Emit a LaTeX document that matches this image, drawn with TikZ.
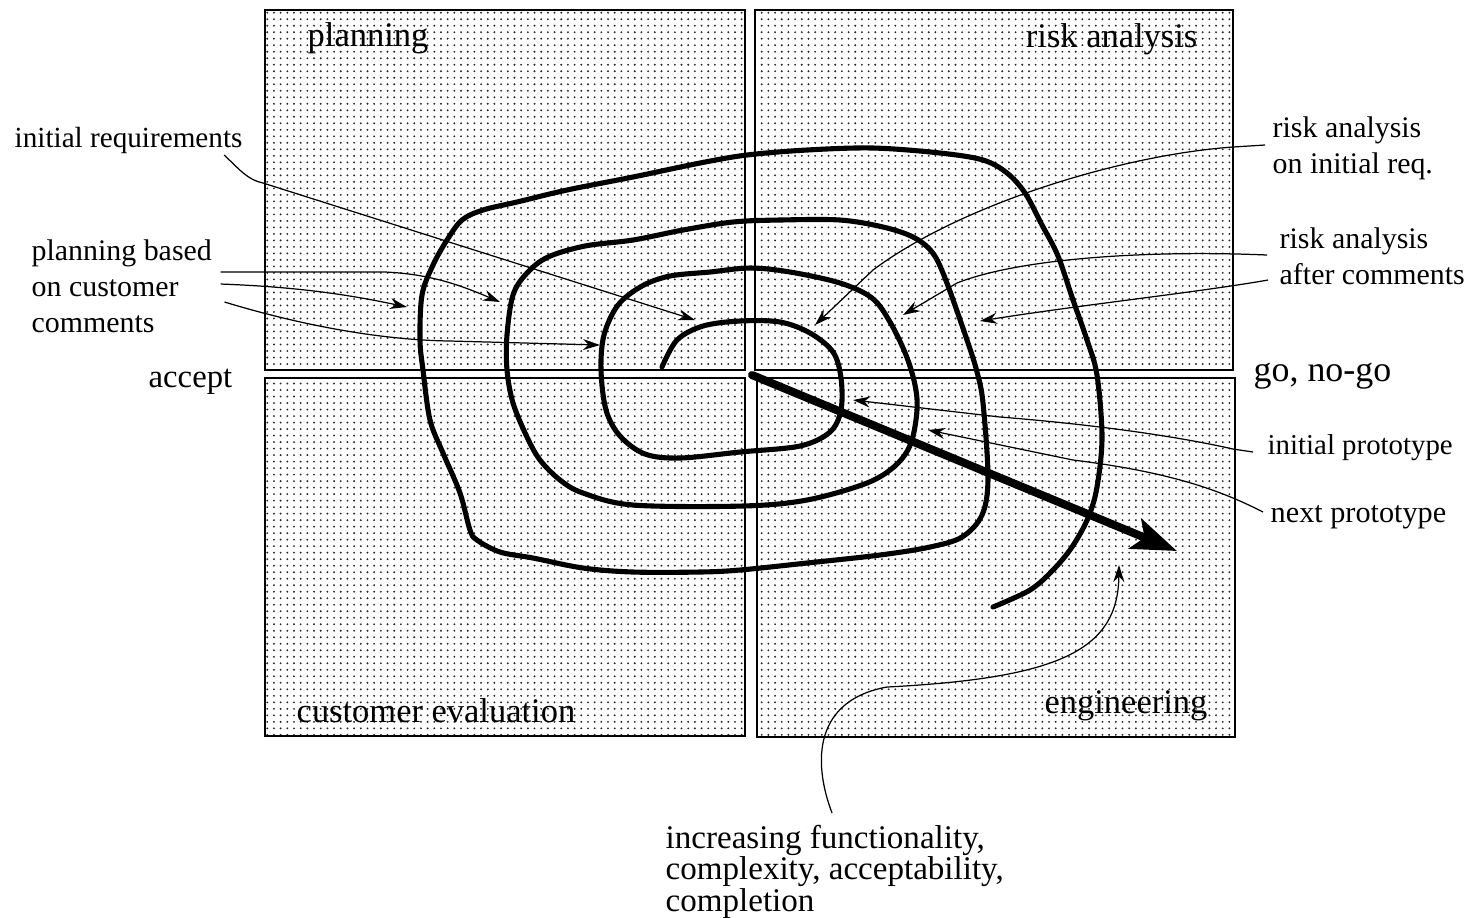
\documentclass[tikz,border=0pt]{standalone}
\usepackage{fontspec}
\setmainfont{Liberation Serif}
\usetikzlibrary{arrows.meta,positioning,patterns}
\pgfdeclarepatternformonly{finedots}{\pgfqpoint{-0.4pt}{-0.4pt}}{\pgfqpoint{0.4pt}{0.4pt}}{\pgfqpoint{1.9pt}{1.85pt}}{%
  \pgfpathcircle{\pgfpointorigin}{0.3pt}\pgfusepath{fill}}
\tikzset{
  quad/.style={draw, line width=0.55pt, pattern=finedots, pattern color=black!85},
  coil/.style={line width=1.45pt, line cap=round, line join=round},
  conn/.style={-{Stealth[length=1.7mm,width=1.1mm]}, line width=0.35pt},
  bigarrow/.style={-{Stealth[length=4.5mm,width=3.2mm,inset=1mm]}, line width=2.3pt, line cap=round},
  lbl/.style={inner sep=0pt, align=left, font=\fontsize{8.5}{10.2}\selectfont},
  ttl/.style={inner sep=0pt, font=\fontsize{9.8}{11}\selectfont},
}

\begin{document}
\begin{tikzpicture}[x=0.01cm, y=-0.01cm]
  \useasboundingbox (0,0) rectangle (1479,917);
  \draw[quad] (265,10) rectangle (745,370);
  \draw[quad] (755,10) rectangle (1233,370);
  \draw[quad] (265,378) rectangle (745,736);
  \draw[quad] (757,378) rectangle (1235,737);

  \node[ttl, anchor=west] (plan) at (307,38) {planning};
  \node[ttl, anchor=east] (risk) at (1198,39) {risk analysis};
  \node[ttl, anchor=west] (ceval) at (296,711) {customer evaluation};
  \node[ttl, anchor=east] (eng) at (1208,706) {engineering};

  \node[lbl, anchor=west, font=\fontsize{8.3}{10}\selectfont] (ireq) at (14,140) {initial requirements};
  \node[lbl, anchor=west] (pbc) at (31,286) {planning based\\on customer\\comments};
  \node[ttl, anchor=west, font=\fontsize{9.3}{11}\selectfont] (acc) at (148,382) {accept};
  \node[lbl, anchor=west] (rinit) at (1272,148) {risk analysis\\on initial req.};
  \node[lbl, anchor=west] (rcom) at (1279,256) {risk analysis\\after comments};
  \node[ttl, anchor=west, font=\fontsize{10.2}{11}\selectfont] (gng) at (1253,376) {go, no-go};
  \node[lbl, anchor=west, font=\fontsize{8.2}{10}\selectfont] (iproto) at (1267,448) {initial prototype};
  \node[lbl, anchor=west, font=\fontsize{8.6}{10}\selectfont] (nproto) at (1270,517) {next prototype};
  \node[lbl, anchor=north west, font=\fontsize{9.4}{9}\selectfont] (incr) at (665,824)
    {increasing functionality,\\complexity, acceptability,\\completion};

  \draw[coil] plot[smooth, tension=0.55] coordinates {
    (662,367) (677,340) (703,326) (740,321) (780,322) (810,333) (833,352) (841,378)
    (841,410) (830,432) (800,446) (740,452) (680,458) (645,454) (620,436) (606,410)
    (601,370) (604,335) (618,305) (642,286) (670,276) (710,272) (750,268) (790,272)
    (840,283) (872,298) (890,322) (906,355) (915,385) (917,410) (911,443) (896,465)
    (867,483) (807,500) (743,506) (633,505) (583,493) (560,480) (540,460) (527,437)
    (513,403) (507,370) (507,335) (513,295) (527,273) (548,257) (585,246) (633,240)
    (683,230) (733,222) (780,220) (840,220) (883,227) (913,237) (932,252) (945,278)
    (967,340) (977,372) (983,403) (988,478) (982,515) (962,537) (930,547) (880,555)
    (807,563) (740,570) (700,572) (633,572) (583,568) (533,558) (500,552) (477,540)
    (470,530) (460,493) (443,453) (430,420) (423,370) (420,340) (422,295) (433,265)
    (447,240) (462,220) (483,210) (517,202) (567,190) (633,177) (700,163) (747,155)
    (807,150) (873,148) (940,153) (983,160) (1007,173) (1025,193) (1042,225) (1058,256)
    (1073,300) (1087,340) (1097,375) (1102,437) (1097,487) (1088,518) (1072,547)
    (1053,570) (1030,590) (993,607)};

  \coordinate (orig) at (752,375);
  \coordinate (far) at (1177,551);
  \draw[bigarrow] (orig) -- (far);

  \coordinate (tReq) at (695,320);
  \coordinate (tPa) at (500,302);
  \coordinate (tPb) at (407,307);
  \coordinate (tPc) at (600,345);
  \coordinate (tRa) at (815,325);
  \coordinate (tRb) at (903,315);
  \coordinate (tRc) at (980,321);
  \coordinate (tIa) at (853,400);
  \coordinate (tNa) at (928,430);
  \coordinate (tInc) at (1119,565);

  \draw[conn] ([shift={(-19,15)}]ireq.east) .. controls (240,170) and (248,180) .. (263,183) -- (tReq);
  \draw[conn] ([shift={(8,-14)}]pbc.east) -- (385,272) .. controls (430,274) and (460,285) .. (tPa);
  \draw[conn] ([shift={(8,-2)}]pbc.east) .. controls (300,287) and (350,295) .. (tPb);
  \draw[conn] ([shift={(12,16)}]pbc.east) .. controls (300,325) and (380,340) .. (450,341) -- (tPc);
  \draw[conn] ([shift={(-7,-3)}]rinit.west) -- (1233,147) .. controls (1120,155) and (960,205) .. (873,270) -- (tRa);
  \draw[conn] ([shift={(-12,-1)}]rcom.west) .. controls (1150,250) and (1020,258) .. (957,283) -- (tRb);
  \draw[conn] ([shift={(-11,24)}]rcom.west) .. controls (1200,292) and (1080,305) .. (tRc);
  \draw[conn] ([shift={(-14,4)}]iproto.west) -- (1233,449) .. controls (1180,437) and (1100,425) .. (1000,417) -- (tIa);
  \draw[conn] ([shift={(-7,-5)}]nproto.west) .. controls (1220,490) and (1170,472) .. (1073,460) -- (tNa);
  \draw[conn] ([shift={(167,-11)}]incr.north west) .. controls (812,760) and (815,700) .. (887,687)
    .. controls (1060,678) and (1118,650) .. (tInc);
\end{tikzpicture}
\end{document}
